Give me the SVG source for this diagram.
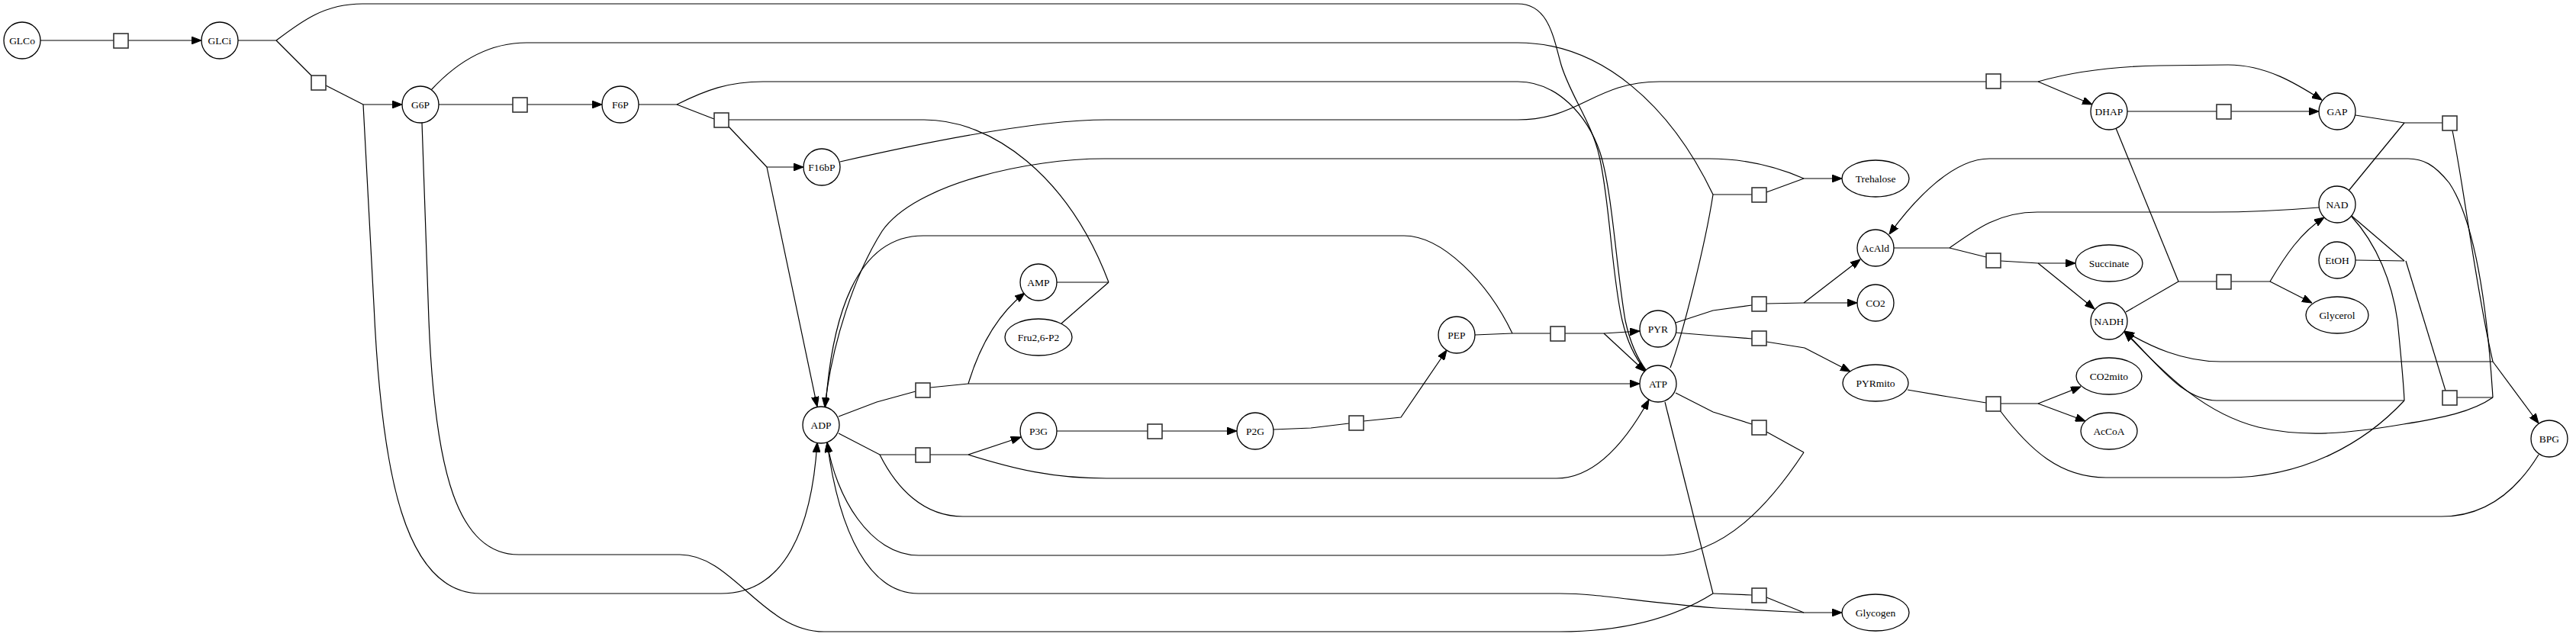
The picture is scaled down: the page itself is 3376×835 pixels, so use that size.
<svg xmlns="http://www.w3.org/2000/svg" width="3376" height="835" viewBox="0 0 3376 835">
<style>
.n{fill:#fff;stroke:#000;stroke-width:1.3}
.s{fill:#fff;stroke:#333;stroke-width:1.6}
.t{font-family:"Liberation Serif","Times New Roman",serif;font-size:13.5px;fill:#000;text-anchor:middle;dominant-baseline:central}
#edges path{fill:none;stroke:#000;stroke-width:1.2}
#edges path.a{marker-end:url(#ah)}
</style>
<defs>
<marker id="ah" viewBox="0 0 13 10" refX="13" refY="5" markerWidth="13" markerHeight="10" markerUnits="userSpaceOnUse" orient="auto"><path d="M0,0 L13,5 L0,10 z" fill="#000" stroke="#000" stroke-width="1"/></marker>
</defs>
<rect width="3376" height="835" fill="#fff"/>
<g id="edges">
<path d="M53,53 L149,53"/>
<path class="a" d="M168,53 L264,53"/>
<path d="M312,53 L362,53"/>
<path d="M362,53 C395,28 425,5 475,5 L1989,5 C2030,5 2036,50 2046,85 C2058,125 2086,160 2096,205 C2110,265 2112,360 2126,420 C2133,450 2145,472 2157,486"/>
<path d="M362,53 L409,100"/>
<path d="M427,112 L476,137"/>
<path class="a" d="M476,137 L527,137"/>
<path class="a" d="M476,137 L490,400 C500,620 530,778 630,778 L945,778 C1030,778 1064,690 1071,580"/>
<path d="M575,137 L672,137"/>
<path class="a" d="M691,137 L789,137"/>
<path d="M837,137 L887,137"/>
<path d="M887,137 C925,118 955,107 1000,107 L1989,107 C2040,107 2080,150 2097,200 C2113,250 2118,350 2130,420 C2137,452 2147,472 2158,486"/>
<path d="M887,137 L936,156"/>
<path d="M955,166 L1005,219"/>
<path d="M955,157 L1211,157 C1300,157 1400,230 1453,370"/>
<path d="M1385,370 L1453,370"/>
<path d="M1391,424 L1453,370"/>
<path class="a" d="M1005,219 L1053,219"/>
<path class="a" d="M1005,219 L1071,533"/>
<path d="M1101,212 C1250,178 1370,157 1450,157 L1989,157 C2070,157 2090,107 2175,107 L2603,107"/>
<path d="M2622,107 L2671,107"/>
<path class="a" d="M2671,107 L2742,137"/>
<path class="a" d="M2671,107 C2720,93 2770,87 2830,86 L2920,85 C2970,85 3010,110 3043,131"/>
<path d="M2788,146 L2905,146"/>
<path class="a" d="M2924,146 L3039,146"/>
<path d="M3087,151 L3151,161"/>
<path d="M3078,250 L3151,161"/>
<path d="M3151,161 L3201,161"/>
<path d="M3214,171 C3230,250 3245,380 3267,474"/>
<path class="a" d="M3267,474 L3327,555"/>
<path class="a" d="M3267,474 L2910,474 C2860,474 2818,454 2784,434"/>
<path d="M2773,168 L2855,369"/>
<path d="M2786,409 L2855,369"/>
<path d="M2855,369 L2905,369"/>
<path d="M2924,369 L2975,369"/>
<path class="a" d="M2975,369 C2995,335 3015,305 3046,285"/>
<path class="a" d="M2975,369 L3030,397"/>
<path d="M3082,283 L3151,342"/>
<path d="M3087,341 L3151,342"/>
<path d="M3153,342 L3205,512"/>
<path d="M3220,521 L3267,521"/>
<path class="a" d="M3267,521 C3262,440 3250,300 3210,240 C3190,215 3175,208 3156,208 L2607,208 C2560,208 2510,260 2476,307"/>
<path class="a" d="M3267,521 C3240,540 3200,548 3150,556 C3080,568 3020,574 2960,560 C2880,540 2825,476 2784,435"/>
<path d="M3082,284 C3115,320 3135,370 3142,420 C3146,460 3150,500 3151,525"/>
<path class="a" d="M3151,525 L2905,525 C2860,525 2825,474 2784,434"/>
<path d="M3151,525 C3100,580 3020,626 2920,626 L2760,626 C2700,626 2660,590 2621,538"/>
<path d="M2482,325 L2555,325"/>
<path d="M3039,272 C2990,276 2950,278 2900,278 L2670,278 C2620,278 2590,300 2555,325"/>
<path d="M2555,325 L2603,337"/>
<path d="M2622,342 L2671,345"/>
<path class="a" d="M2671,345 L2720,345"/>
<path class="a" d="M2671,345 L2745,405"/>
<path d="M2196,423 L2245,407 L2296,400"/>
<path d="M2315,398 L2364,397"/>
<path class="a" d="M2364,397 L2438,340"/>
<path class="a" d="M2364,397 L2434,397"/>
<path d="M2196,436 L2245,440 L2296,444"/>
<path d="M2315,448 L2365,456"/>
<path class="a" d="M2365,456 L2425,487"/>
<path d="M2500,511 L2553,520 L2603,528"/>
<path d="M2622,529 L2671,529"/>
<path class="a" d="M2671,529 L2727,507"/>
<path class="a" d="M2671,529 L2733,552"/>
<path d="M1933,439 L1982,437"/>
<path d="M1082,533 C1090,420 1120,309 1210,309 L1840,309 C1890,309 1950,370 1982,437"/>
<path d="M1982,437 L2032,437"/>
<path d="M2051,437 L2102,437"/>
<path class="a" d="M2102,437 L2149,434"/>
<path class="a" d="M2102,437 L2156,487"/>
<path d="M2196,515 L2245,540 L2296,556"/>
<path d="M2315,566 L2364,593"/>
<path class="a" d="M2364,593 C2320,660 2260,728 2180,728 L1204,728 C1140,728 1095,650 1084,580"/>
<path d="M553,161 L562,420 C570,620 600,727 680,727 L891,727 C960,727 1000,828 1080,828 L2044,828 C2150,828 2210,800 2245,778"/>
<path d="M2182,527 L2245,778"/>
<path d="M2245,778 L2296,780"/>
<path d="M2315,783 L2364,803"/>
<path class="a" d="M2364,803 L2414,803"/>
<path class="a" d="M2364,803 L2250,797 C2150,790 2100,778 2044,778 L1204,778 C1140,778 1100,700 1084,580"/>
<path d="M565,118 C600,80 640,56 690,56 L1989,56 C2100,56 2190,140 2245,255"/>
<path d="M2189,482 C2205,440 2235,320 2245,255"/>
<path d="M2245,255 L2296,255"/>
<path d="M2315,252 L2364,234"/>
<path class="a" d="M2364,234 L2414,234"/>
<path class="a" d="M2364,234 C2320,215 2280,208 2240,208 L1447,208 C1350,208 1200,240 1156,303 C1120,360 1090,450 1081,534"/>
<path d="M1099,546 L1149,527 L1200,513"/>
<path d="M1219,508 L1269,503"/>
<path class="a" d="M1269,503 L2149,503"/>
<path class="a" d="M1269,503 C1285,450 1310,410 1343,384"/>
<path d="M1099,568 L1153,596 L1200,596"/>
<path d="M3327,596 C3300,640 3260,677 3200,677 L1262,677 C1210,677 1175,640 1153,596"/>
<path d="M1219,596 L1269,596"/>
<path class="a" d="M1269,596 L1338,573"/>
<path class="a" d="M1269,596 C1330,615 1380,627 1450,627 L2040,627 C2090,627 2130,580 2161,524"/>
<path d="M1385,565 L1504,565"/>
<path class="a" d="M1523,565 L1621,565"/>
<path d="M1669,563 L1718,561 L1768,555"/>
<path class="a" d="M1787,552 L1836,547 L1896,459"/>
</g>
<g id="reactions">
<rect id="r1" class="s" x="149" y="44" width="19" height="19"/>
<rect id="r2" class="s" x="408" y="99" width="19" height="19"/>
<rect id="r3" class="s" x="672" y="128" width="19" height="19"/>
<rect id="r4" class="s" x="936" y="148" width="19" height="19"/>
<rect id="r5" class="s" x="1200" y="502" width="19" height="19"/>
<rect id="r6" class="s" x="1200" y="587" width="19" height="19"/>
<rect id="r7" class="s" x="1504" y="556" width="19" height="19"/>
<rect id="r8" class="s" x="1768" y="545" width="19" height="19"/>
<rect id="r9" class="s" x="2032" y="428" width="19" height="19"/>
<rect id="r10" class="s" x="2296" y="246" width="19" height="19"/>
<rect id="r11" class="s" x="2296" y="389" width="19" height="19"/>
<rect id="r12" class="s" x="2296" y="434" width="19" height="19"/>
<rect id="r13" class="s" x="2296" y="551" width="19" height="19"/>
<rect id="r14" class="s" x="2296" y="771" width="19" height="19"/>
<rect id="r15" class="s" x="2603" y="97" width="19" height="19"/>
<rect id="r16" class="s" x="2603" y="332" width="19" height="19"/>
<rect id="r17" class="s" x="2603" y="520" width="19" height="19"/>
<rect id="r18" class="s" x="2905" y="137" width="19" height="19"/>
<rect id="r19" class="s" x="2905" y="360" width="19" height="19"/>
<rect id="r20" class="s" x="3201" y="152" width="19" height="19"/>
<rect id="r21" class="s" x="3201" y="512" width="19" height="19"/>
</g>
<g id="GLCo"><circle class="n" cx="29" cy="53" r="24"/><text class="t" x="29" y="53">GLCo</text></g>
<g id="GLCi"><circle class="n" cx="288" cy="53" r="24"/><text class="t" x="288" y="53">GLCi</text></g>
<g id="G6P"><circle class="n" cx="551" cy="137" r="24"/><text class="t" x="551" y="137">G6P</text></g>
<g id="F6P"><circle class="n" cx="813" cy="137" r="24"/><text class="t" x="813" y="137">F6P</text></g>
<g id="F16bP"><circle class="n" cx="1077" cy="219" r="24"/><text class="t" x="1077" y="219">F16bP</text></g>
<g id="AMP"><circle class="n" cx="1361" cy="370" r="24"/><text class="t" x="1361" y="370">AMP</text></g>
<g id="Fru26P2"><ellipse class="n" cx="1361" cy="442" rx="44" ry="24"/><text class="t" x="1361" y="442">Fru2,6-P2</text></g>
<g id="ADP"><circle class="n" cx="1076" cy="557" r="24"/><text class="t" x="1076" y="557">ADP</text></g>
<g id="P3G"><circle class="n" cx="1361" cy="565" r="24"/><text class="t" x="1361" y="565">P3G</text></g>
<g id="P2G"><circle class="n" cx="1645" cy="565" r="24"/><text class="t" x="1645" y="565">P2G</text></g>
<g id="PEP"><circle class="n" cx="1909" cy="439" r="24"/><text class="t" x="1909" y="439">PEP</text></g>
<g id="PYR"><circle class="n" cx="2173" cy="431" r="24"/><text class="t" x="2173" y="431">PYR</text></g>
<g id="ATP"><circle class="n" cx="2173" cy="503" r="24"/><text class="t" x="2173" y="503">ATP</text></g>
<g id="Trehalose"><ellipse class="n" cx="2458" cy="234" rx="44" ry="24"/><text class="t" x="2458" y="234">Trehalose</text></g>
<g id="AcAld"><circle class="n" cx="2458" cy="325" r="24"/><text class="t" x="2458" y="325">AcAld</text></g>
<g id="CO2"><circle class="n" cx="2458" cy="397" r="24"/><text class="t" x="2458" y="397">CO2</text></g>
<g id="PYRmito"><ellipse class="n" cx="2458" cy="502" rx="43" ry="24"/><text class="t" x="2458" y="502">PYRmito</text></g>
<g id="Glycogen"><ellipse class="n" cx="2458" cy="803" rx="44" ry="24"/><text class="t" x="2458" y="803">Glycogen</text></g>
<g id="DHAP"><circle class="n" cx="2764" cy="146" r="24"/><text class="t" x="2764" y="146">DHAP</text></g>
<g id="Succinate"><ellipse class="n" cx="2764" cy="345" rx="44" ry="24"/><text class="t" x="2764" y="345">Succinate</text></g>
<g id="NADH"><circle class="n" cx="2764" cy="421" r="24"/><text class="t" x="2764" y="421">NADH</text></g>
<g id="CO2mito"><ellipse class="n" cx="2764" cy="493" rx="43" ry="24"/><text class="t" x="2764" y="493">CO2mito</text></g>
<g id="AcCoA"><ellipse class="n" cx="2764" cy="565" rx="37" ry="24"/><text class="t" x="2764" y="565">AcCoA</text></g>
<g id="GAP"><circle class="n" cx="3063" cy="146" r="24"/><text class="t" x="3063" y="146">GAP</text></g>
<g id="NAD"><circle class="n" cx="3063" cy="268" r="24"/><text class="t" x="3063" y="268">NAD</text></g>
<g id="EtOH"><circle class="n" cx="3063" cy="341" r="24"/><text class="t" x="3063" y="341">EtOH</text></g>
<g id="Glycerol"><ellipse class="n" cx="3063" cy="413" rx="41" ry="24"/><text class="t" x="3063" y="413">Glycerol</text></g>
<g id="BPG"><circle class="n" cx="3341" cy="575" r="24"/><text class="t" x="3341" y="575">BPG</text></g>
</svg>
